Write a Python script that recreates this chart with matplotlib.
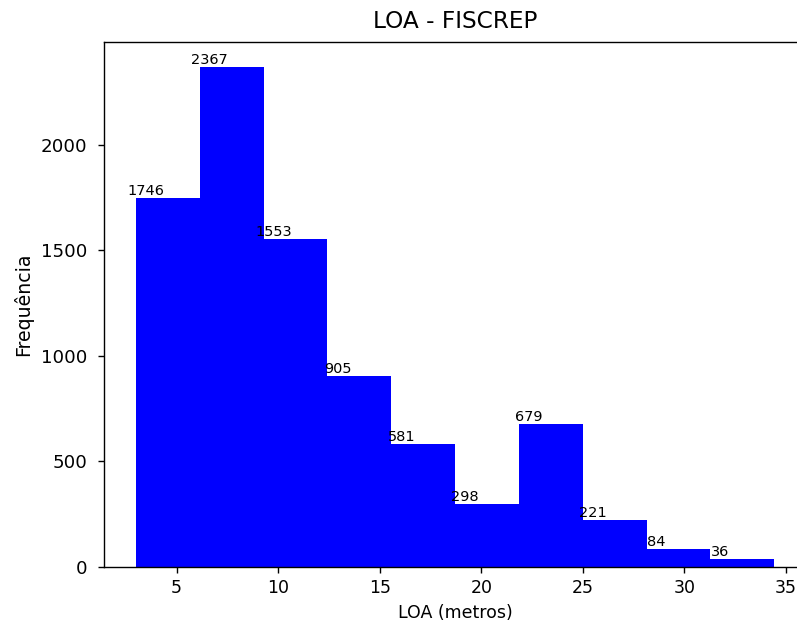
import numpy as np
import matplotlib
matplotlib.use('Agg')
import matplotlib.pyplot as plt

# LOA histogram data (bin edges in metres, counts per bin)
bin_edges = [3.00, 6.14, 9.28, 12.42, 15.56, 18.71, 21.85, 24.99, 28.13, 31.27, 34.41]
counts = [1746, 2367, 1553, 905, 581, 298, 679, 221, 84, 36]

fig, ax = plt.subplots(figsize=(797 / 125, 624 / 125), dpi=125)
# the original image is cropped on the right, so the axes run past the edge
fig.subplots_adjust(left=0.1305, right=1.0113, bottom=0.0913, top=0.9327)

n, bins, patches = ax.hist(bin_edges[:-1], bins=bin_edges, weights=counts, color='blue')

for i in range(len(n)):
    ax.text(bins[i] + 0.5, n[i], str(int(n[i])), ha='center', va='bottom', fontsize=8.33)

ax.set_title('LOA - FISCREP', fontsize=13.4, pad=8)
ax.set_xlabel('LOA (metros)')
ax.set_ylabel('Frequência', fontsize=10.9)
ax.tick_params(axis='y', labelsize=10.5, pad=6.3)

fig.savefig('out.png', dpi=125)
